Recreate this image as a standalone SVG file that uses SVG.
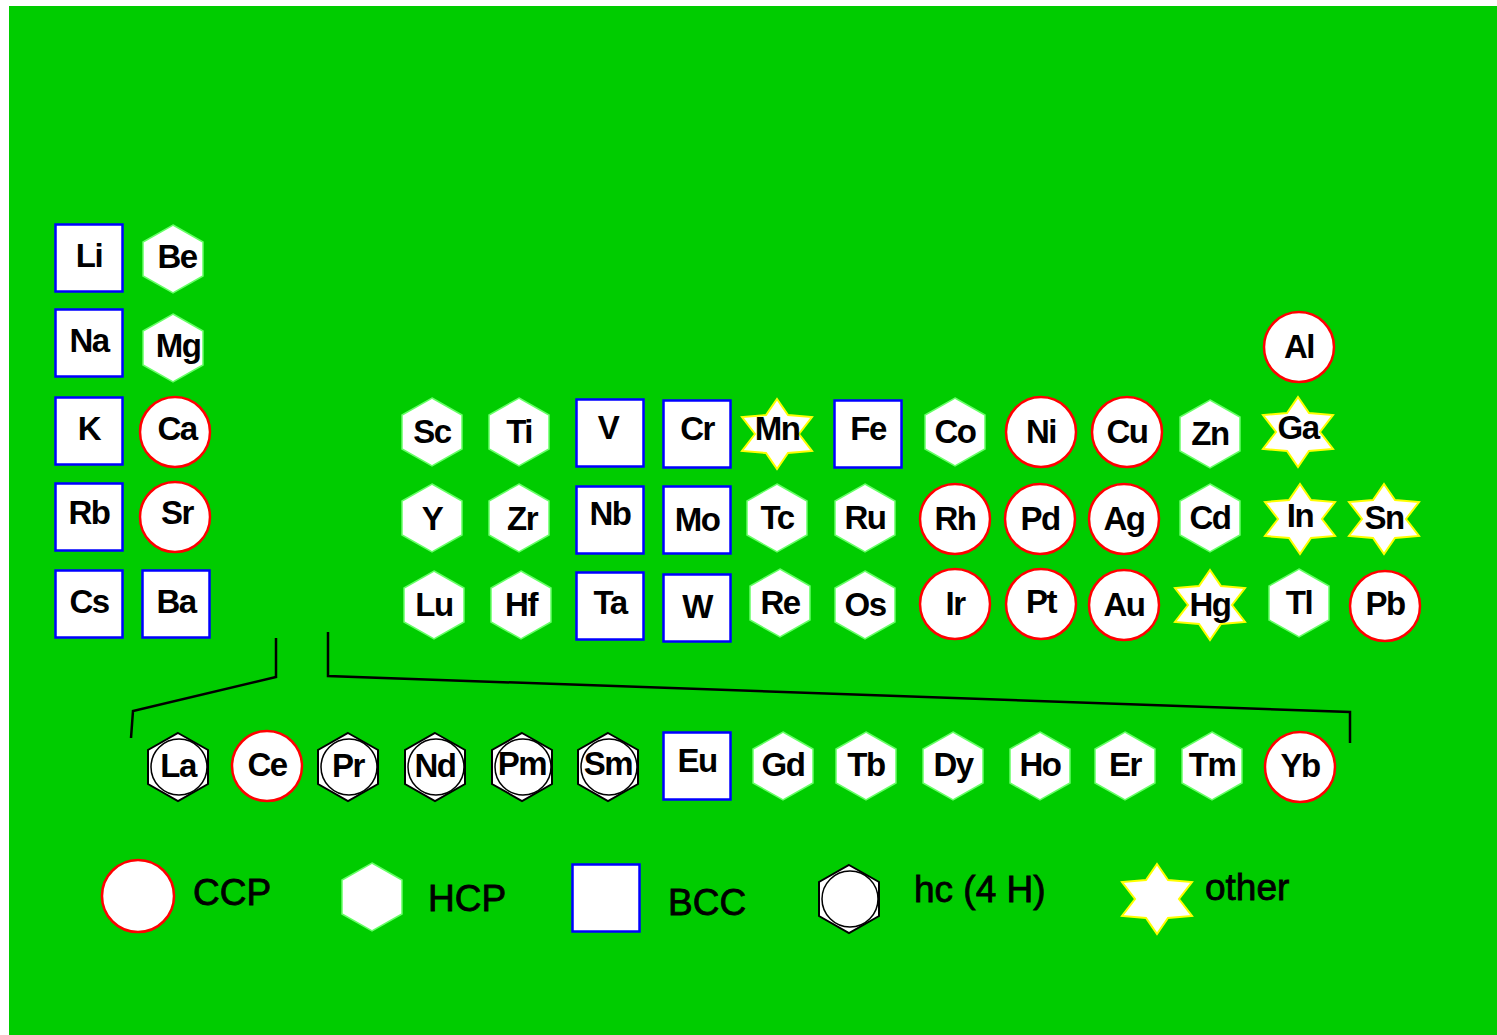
<svg xmlns="http://www.w3.org/2000/svg" xmlns:xlink="http://www.w3.org/1999/xlink" width="1497" height="1035" viewBox="0 0 1497 1035">
<style>
.lbl{font-family:"Liberation Sans",Arial,sans-serif;font-weight:bold;font-size:33px;letter-spacing:-1.5px;text-anchor:middle;fill:#000}
.leg{font-family:"Liberation Sans",Arial,sans-serif;font-size:37px;fill:#000;stroke:#000;stroke-width:0.8}
.br{fill:none;stroke:#000;stroke-width:2.5}
</style>
<defs>
<circle id="ccp" r="35" fill="#fff" stroke="#ff0000" stroke-width="2.5"/>
<polygon id="hcp" points="0,-34 30,-17 30,17 0,34 -30,17 -30,-17" fill="#fff" stroke="#66ff66" stroke-width="1.5"/>
<rect id="bcc" x="-33.5" y="-33.5" width="67" height="67" fill="#fff" stroke="#0000ff" stroke-width="2.5"/>
<polygon id="oth" points="0,-35 11,-19 35,-17 22,0 35,17 11,19 0,35 -11,19 -35,17 -22,0 -35,-17 -11,-19" fill="#fff" stroke="#ffff00" stroke-width="2"/>
<g id="hc">
<polygon points="0,-34 30,-17 30,17 0,34 -30,17 -30,-17" fill="#fff" stroke="#000" stroke-width="2"/>
<circle cx="1" cy="0" r="28" fill="none" stroke="#000" stroke-width="1.5"/>
</g>
</defs>
<rect x="9" y="6" width="1488" height="1029" fill="#00cc00"/>
<g id="connectors">
<polyline class="br" points="276,638 276,677 133,711 131,738"/>
<polyline class="br" points="328,632 328,676 1350,712 1350,743"/>
</g>
<g id="nodes">
<g id="Li" transform="translate(89,258)"><use xlink:href="#bcc"/><text class="lbl" y="9">Li</text></g>
<g id="Be" transform="translate(173,259)"><use xlink:href="#hcp"/><text class="lbl" x="4" y="9">Be</text></g>
<g id="Na" transform="translate(89,343)"><use xlink:href="#bcc"/><text class="lbl" y="9">Na</text></g>
<g id="Mg" transform="translate(173,348)"><use xlink:href="#hcp"/><text class="lbl" x="5" y="9">Mg</text></g>
<g id="K" transform="translate(89,431)"><use xlink:href="#bcc"/><text class="lbl" y="9">K</text></g>
<g id="Ca" transform="translate(175,432)"><use xlink:href="#ccp"/><text class="lbl" x="2" y="8">Ca</text></g>
<g id="Rb" transform="translate(89,517)"><use xlink:href="#bcc"/><text class="lbl" y="7">Rb</text></g>
<g id="Sr" transform="translate(175,517)"><use xlink:href="#ccp"/><text class="lbl" x="2" y="7">Sr</text></g>
<g id="Cs" transform="translate(89,604)"><use xlink:href="#bcc"/><text class="lbl" y="9">Cs</text></g>
<g id="Ba" transform="translate(176,604)"><use xlink:href="#bcc"/><text class="lbl" y="9">Ba</text></g>
<g id="Al" transform="translate(1299,347)"><use xlink:href="#ccp"/><text class="lbl" y="11">Al</text></g>
<g id="Sc" transform="translate(432,432)"><use xlink:href="#hcp"/><text class="lbl" y="11">Sc</text></g>
<g id="Ti" transform="translate(519,432)"><use xlink:href="#hcp"/><text class="lbl" y="11">Ti</text></g>
<g id="V" transform="translate(610,433)"><use xlink:href="#bcc"/><text class="lbl" x="-2" y="6">V</text></g>
<g id="Cr" transform="translate(697,434)"><use xlink:href="#bcc"/><text class="lbl" y="6">Cr</text></g>
<g id="Mn" transform="translate(777,434)"><use xlink:href="#oth"/><text class="lbl" y="6">Mn</text></g>
<g id="Fe" transform="translate(868,434)"><use xlink:href="#bcc"/><text class="lbl" y="6">Fe</text></g>
<g id="Co" transform="translate(955,432)"><use xlink:href="#hcp"/><text class="lbl" y="11">Co</text></g>
<g id="Ni" transform="translate(1041,432)"><use xlink:href="#ccp"/><text class="lbl" y="11">Ni</text></g>
<g id="Cu" transform="translate(1127,432)"><use xlink:href="#ccp"/><text class="lbl" y="11">Cu</text></g>
<g id="Zn" transform="translate(1210,434)"><use xlink:href="#hcp"/><text class="lbl" y="11">Zn</text></g>
<g id="Ga" transform="translate(1298,432)"><use xlink:href="#oth"/><text class="lbl" y="7">Ga</text></g>
<g id="Y" transform="translate(432,518)"><use xlink:href="#hcp"/><text class="lbl" y="12">Y</text></g>
<g id="Zr" transform="translate(519,518)"><use xlink:href="#hcp"/><text class="lbl" x="3" y="12">Zr</text></g>
<g id="Nb" transform="translate(610,520)"><use xlink:href="#bcc"/><text class="lbl" y="5">Nb</text></g>
<g id="Mo" transform="translate(697,520)"><use xlink:href="#bcc"/><text class="lbl" y="11">Mo</text></g>
<g id="Tc" transform="translate(777,518)"><use xlink:href="#hcp"/><text class="lbl" y="11">Tc</text></g>
<g id="Ru" transform="translate(865,518)"><use xlink:href="#hcp"/><text class="lbl" y="11">Ru</text></g>
<g id="Rh" transform="translate(955,519)"><use xlink:href="#ccp"/><text class="lbl" y="11">Rh</text></g>
<g id="Pd" transform="translate(1040,519)"><use xlink:href="#ccp"/><text class="lbl" y="11">Pd</text></g>
<g id="Ag" transform="translate(1124,519)"><use xlink:href="#ccp"/><text class="lbl" y="11">Ag</text></g>
<g id="Cd" transform="translate(1210,518)"><use xlink:href="#hcp"/><text class="lbl" y="11">Cd</text></g>
<g id="In" transform="translate(1300,519)"><use xlink:href="#oth"/><text class="lbl" y="8">In</text></g>
<g id="Sn" transform="translate(1384,519)"><use xlink:href="#oth"/><text class="lbl" y="10">Sn</text></g>
<g id="Lu" transform="translate(434,605)"><use xlink:href="#hcp"/><text class="lbl" y="11">Lu</text></g>
<g id="Hf" transform="translate(521,605)"><use xlink:href="#hcp"/><text class="lbl" y="11">Hf</text></g>
<g id="Ta" transform="translate(610,606)"><use xlink:href="#bcc"/><text class="lbl" y="8">Ta</text></g>
<g id="W" transform="translate(697,608)"><use xlink:href="#bcc"/><text class="lbl" y="10">W</text></g>
<g id="Re" transform="translate(780,603)"><use xlink:href="#hcp"/><text class="lbl" y="11">Re</text></g>
<g id="Os" transform="translate(865,605)"><use xlink:href="#hcp"/><text class="lbl" y="11">Os</text></g>
<g id="Ir" transform="translate(955,604)"><use xlink:href="#ccp"/><text class="lbl" y="11">Ir</text></g>
<g id="Pt" transform="translate(1041,604)"><use xlink:href="#ccp"/><text class="lbl" y="9">Pt</text></g>
<g id="Au" transform="translate(1124,605)"><use xlink:href="#ccp"/><text class="lbl" y="11">Au</text></g>
<g id="Hg" transform="translate(1210,605)"><use xlink:href="#oth"/><text class="lbl" y="11">Hg</text></g>
<g id="Tl" transform="translate(1299,603)"><use xlink:href="#hcp"/><text class="lbl" y="11">Tl</text></g>
<g id="Pb" transform="translate(1385,606)"><use xlink:href="#ccp"/><text class="lbl" y="9">Pb</text></g>
<g id="La" transform="translate(178,767)"><use xlink:href="#hc"/><text class="lbl" y="10">La</text></g>
<g id="Ce" transform="translate(267,766)"><use xlink:href="#ccp"/><text class="lbl" y="10">Ce</text></g>
<g id="Pr" transform="translate(348,767)"><use xlink:href="#hc"/><text class="lbl" y="10">Pr</text></g>
<g id="Nd" transform="translate(435,767)"><use xlink:href="#hc"/><text class="lbl" y="10">Nd</text></g>
<g id="Pm" transform="translate(522,767)"><use xlink:href="#hc"/><text class="lbl" y="8">Pm</text></g>
<g id="Sm" transform="translate(608,767)"><use xlink:href="#hc"/><text class="lbl" y="8">Sm</text></g>
<g id="Eu" transform="translate(697,766)"><use xlink:href="#bcc"/><text class="lbl" y="6">Eu</text></g>
<g id="Gd" transform="translate(783,766)"><use xlink:href="#hcp"/><text class="lbl" y="10">Gd</text></g>
<g id="Tb" transform="translate(866,766)"><use xlink:href="#hcp"/><text class="lbl" y="10">Tb</text></g>
<g id="Dy" transform="translate(953,766)"><use xlink:href="#hcp"/><text class="lbl" y="10">Dy</text></g>
<g id="Ho" transform="translate(1040,766)"><use xlink:href="#hcp"/><text class="lbl" y="10">Ho</text></g>
<g id="Er" transform="translate(1125,766)"><use xlink:href="#hcp"/><text class="lbl" y="10">Er</text></g>
<g id="Tm" transform="translate(1212,766)"><use xlink:href="#hcp"/><text class="lbl" y="10">Tm</text></g>
<g id="Yb" transform="translate(1300,767)"><use xlink:href="#ccp"/><text class="lbl" y="10">Yb</text></g>
</g>
<g id="legend">
<g id="leg-ccp"><use xlink:href="#ccp" transform="translate(138,896) scale(1.03)"/><text class="leg" x="193" y="905">CCP</text></g>
<g id="leg-hcp"><use xlink:href="#hcp" transform="translate(372,897)"/><text class="leg" x="428" y="911">HCP</text></g>
<g id="leg-bcc"><use xlink:href="#bcc" transform="translate(606,898)"/><text class="leg" x="668" y="915">BCC</text></g>
<g id="leg-hc"><use xlink:href="#hc" transform="translate(849,899)"/><text class="leg" x="914" y="902">hc (4 H)</text></g>
<g id="leg-oth"><use xlink:href="#oth" transform="translate(1157,899)"/><text class="leg" x="1205" y="900">other</text></g>
</g>
</svg>
